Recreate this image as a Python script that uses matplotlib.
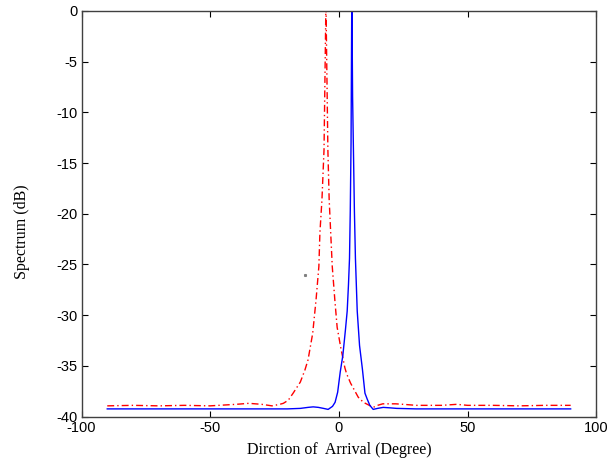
import numpy as np
import matplotlib
matplotlib.use('Agg')
import matplotlib.pyplot as plt

# Blue (solid) spectrum, peak near +5 degrees
blue_deg = [-90, -60, -30, -20, -15, -12, -10, -8, -6, -4.2, -2.5, -1.5, -0.5, 0.5,
            1.5, 2.5, 3.2, 3.7, 4.1, 4.4, 4.7, 5.0, 5.3, 6.0, 6.4, 7.1, 8.0, 9.1,
            10.1, 11.0, 12.0, 13.3, 15.0, 17.2, 20.0, 22.4, 30, 60, 90]
blue_db = [-39.25, -39.25, -39.25, -39.25, -39.2, -39.1, -39.05, -39.1, -39.2, -39.3,
           -39.0, -38.6, -37.6, -35.6, -34.0, -31.5, -29.6, -27.0, -24.4, -19.7,
           -13.0, 2.0, -8.5, -19.7, -24.4, -29.6, -33.0, -35.3, -37.7, -38.3,
           -38.9, -39.3, -39.2, -39.1, -39.15, -39.2, -39.25, -39.25, -39.25]

# Red (dash-dot) spectrum, peak near -5 degrees
red_deg = [-90, -80, -70, -60, -50, -40, -35, -30, -26, -23, -21.6, -19.7, -17.8,
           -15.0, -13.2, -12.0, -10.2, -8.9, -7.8, -7.4, -6.6, -5.8, -5.3, -5.05,
           -4.8, -4.3, -3.8, -3.2, -2.6, -1.6, -0.7, 0.7, 2.3, 3.0, 4.5, 6.0, 7.5,
           9.5, 11.4, 13.3, 15.0, 17.0, 22.0, 25.0, 30, 40, 45.7, 50, 60, 70, 80, 90]
red_db = [-38.95, -38.9, -38.95, -38.9, -38.95, -38.8, -38.7, -38.8, -38.95, -38.8,
          -38.7, -38.4, -37.7, -36.6, -35.4, -34.4, -31.8, -28.5, -25.2, -21.9,
          -18.6, -13.7, -4.0, 1.0, -4.0, -13.7, -18.6, -21.9, -25.2, -28.5, -31.2,
          -33.2, -35.2, -35.8, -36.7, -37.4, -38.1, -38.6, -38.85, -39.1, -38.9,
          -38.75, -38.75, -38.8, -38.9, -38.9, -38.8, -38.9, -38.9, -38.95, -38.9, -38.9]

# stray point visible in the picture
stray_deg = [-13.2]
stray_db = [-26.0]

x_ticks = [-100, -50, 0, 50, 100]
y_ticks = [0, -5, -10, -15, -20, -25, -30, -35, -40]

fig = plt.figure(figsize=(6.09, 4.66), dpi=100)
ax = fig.add_axes([81.5 / 609, (466 - 416.5) / 466, (596.4 - 81.5) / 609, (416.5 - 11) / 466])

ax.plot(red_deg, red_db, color='red', linewidth=1.0, dashes=(5, 2.2, 1, 2.2))
ax.plot(blue_deg, blue_db, color='blue', linewidth=1.0)
ax.plot(stray_deg, stray_db, linestyle='none', marker='s', markersize=1.2, color='gray')

ax.set_xlim(-100, 100)
ax.set_ylim(-40, 0)
ax.set_xticks(x_ticks)
ax.set_yticks(y_ticks)
ax.set_xticklabels([str(t) for t in x_ticks], family='Liberation Sans', fontsize=10.5)
ax.set_yticklabels([str(t) for t in y_ticks], family='Liberation Sans', fontsize=10.5)
ax.tick_params(direction='in', length=4.3, width=0.8, top=True, right=True, pad=3)
for s in ax.spines.values():
    s.set_color('#404040')
    s.set_linewidth(1.0)

ax.set_xlabel('Dirction of  Arrival (Degree)', family='Liberation Serif', fontsize=11.5, labelpad=5)
ax.set_ylabel('Spectrum (dB)', family='Liberation Serif', fontsize=11.5)
ax.yaxis.set_label_coords(-0.100, 0.455)

fig.savefig('out.png', dpi=100)
